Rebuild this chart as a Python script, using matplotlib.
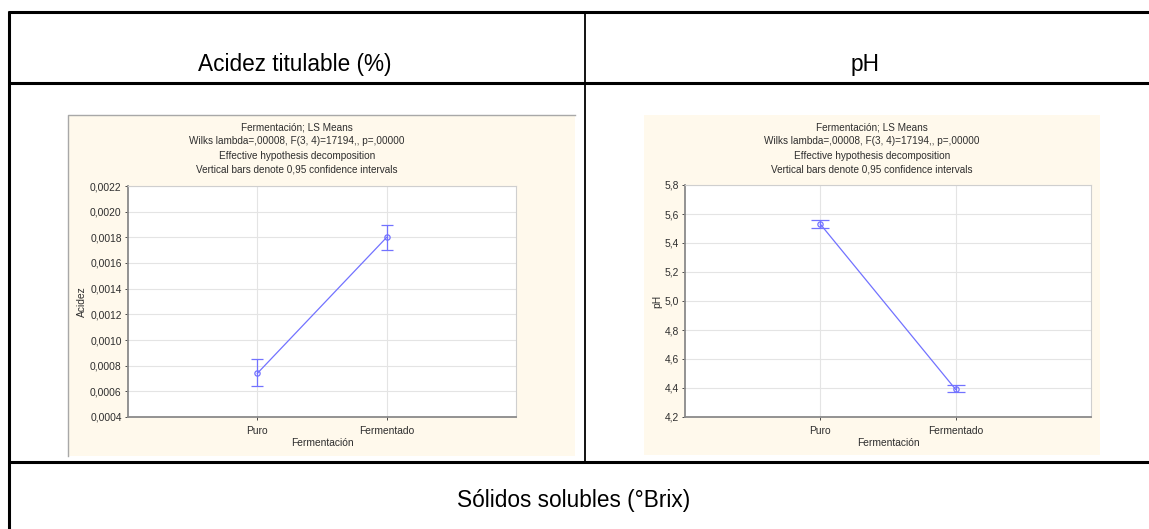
import matplotlib
matplotlib.use("Agg")
import matplotlib.pyplot as plt
from matplotlib.lines import Line2D
from matplotlib.patches import Rectangle

plt.rcParams['font.family'] = ['Liberation Sans', 'DejaVu Sans']

W, H = 1149, 529
DPI = 100

# Data: least-squares means with 95% confidence limits
categories = ["Puro", "Fermentado"]
acidez_mean = [0.00074, 0.00180]
acidez_low = [0.00064, 0.00170]
acidez_high = [0.00085, 0.00190]
ph_mean = [5.53, 4.39]
ph_low = [5.50, 4.37]
ph_high = [5.56, 4.42]

acidez_ticks = [0.0004, 0.0006, 0.0008, 0.0010, 0.0012, 0.0014, 0.0016, 0.0018, 0.0020, 0.0022]
acidez_ticklabels = ["0,0004", "0,0006", "0,0008", "0,0010", "0,0012", "0,0014",
                     "0,0016", "0,0018", "0,0020", "0,0022"]
ph_ticks = [4.2, 4.4, 4.6, 4.8, 5.0, 5.2, 5.4, 5.6, 5.8]
ph_ticklabels = ["4,2", "4,4", "4,6", "4,8", "5,0", "5,2", "5,4", "5,6", "5,8"]

header_left = "Acidez titulable (%)"
header_right = "pH"
footer_title = "Sólidos solubles (°Brix)"
chart_title = ["Fermentación; LS Means",
               "Wilks lambda=,00008, F(3, 4)=17194,, p=,00000",
               "Effective hypothesis decomposition",
               "Vertical bars denote 0,95 confidence intervals"]
xlabel = "Fermentación"

fig = plt.figure(figsize=(W / DPI, H / DPI), dpi=DPI)
fig.patch.set_facecolor("white")


def fx(x):
    return x / W


def fy(y):
    return 1 - y / H


def hline(x0, x1, y, lw):
    fig.add_artist(Line2D([fx(x0), fx(x1)], [fy(y), fy(y)], color="black", lw=lw,
                          transform=fig.transFigure, solid_capstyle="butt"))


def vline(x, y0, y1, lw):
    fig.add_artist(Line2D([fx(x), fx(x)], [fy(y0), fy(y1)], color="black", lw=lw,
                          transform=fig.transFigure, solid_capstyle="butt"))


# Table frame
hline(8, W, 11.5, 2.2)
hline(8, W, 82.5, 2.2)
hline(8, W, 462, 2.2)
vline(9, 10.5, H, 2.2)
vline(585, 11, 462, 1.3)

fig.text(fx(295), fy(65), header_left, ha="center", va="center", fontsize=16.3)
fig.text(fx(865), fy(65), header_right, ha="center", va="center", fontsize=16.3)
fig.text(fx(574), fy(500), footer_title, ha="center", va="center", fontsize=16.3)

CREAM = "#FFF9EC"
BLUE = "#7272FF"
GRID = "#E4E4E4"
TXT = "#2E2E2E"


def chart(img_box, plot_box, title_cx, means, lows, highs, ticks, ticklabels, ylim,
          ylabel, ylabel_x, cap, frame):
    ix0, iy0, ix1, iy1 = img_box
    fig.add_artist(Rectangle((fx(ix0), fy(iy1)), fx(ix1 - ix0), (iy1 - iy0) / H,
                             transform=fig.transFigure, facecolor=CREAM,
                             edgecolor="none", zorder=0))
    if frame:
        fig.add_artist(Line2D([fx(ix0), fx(ix0), fx(ix1)], [fy(iy1), fy(iy0), fy(iy0)],
                              color="#A8A8A8", lw=1.0, transform=fig.transFigure))
    for i, line in enumerate(chart_title):
        fig.text(fx(title_cx), fy(127 + 14.3 * i), line, ha="center", va="center",
                 fontsize=7.2, color=TXT)

    px0, py0, px1, py1 = plot_box
    ax = fig.add_axes([fx(px0), fy(py1), (px1 - px0) / W, (py1 - py0) / H])
    ax.set_facecolor("white")
    xs = list(range(1, len(categories) + 1))
    ax.set_xlim(0, len(categories) + 1)
    ax.set_ylim(*ylim)
    ax.set_yticks(ticks)
    ax.set_yticklabels(ticklabels)
    ax.set_xticks(xs)
    ax.set_xticklabels(categories)
    ax.grid(True, color=GRID, lw=0.8)
    ax.set_axisbelow(True)
    for s in ("left", "bottom"):
        ax.spines[s].set_color("#8A8A8A")
        ax.spines[s].set_linewidth(1.3)
    for s in ("top", "right"):
        ax.spines[s].set_color("#CFCFCF")
        ax.spines[s].set_linewidth(0.8)
    ax.tick_params(axis="both", labelsize=7.4, colors=TXT, length=2.5,
                   width=0.6, pad=2)
    ax.tick_params(axis="x", pad=4)
    yerr = [[m - l for m, l in zip(means, lows)], [h - m for m, h in zip(means, highs)]]
    ax.plot(xs, means, color=BLUE, lw=0.9, zorder=3)
    ax.errorbar(xs, means, yerr=yerr, fmt="o", ms=3.8, mfc="none", mec=BLUE,
                mew=0.9, ecolor=BLUE, elinewidth=0.9, capsize=cap, capthick=0.9,
                zorder=4)
    fig.text(fx((px0 + px1) / 2), fy(443), xlabel, ha="center", va="center",
             fontsize=7.4, color=TXT)
    fig.text(fx(ylabel_x), fy((py0 + py1) / 2), ylabel, ha="center", va="center",
             rotation=90, fontsize=7.4, color=TXT)
    return ax


chart((68, 115, 575, 456), (128, 186, 516, 417), 297,
      acidez_mean, acidez_low, acidez_high, acidez_ticks, acidez_ticklabels,
      (0.0004, 0.0022), "Acidez", 82, 4.5, True)
chart((644, 115, 1100, 455), (685, 185, 1091, 417), 872,
      ph_mean, ph_low, ph_high, ph_ticks, ph_ticklabels,
      (4.2, 5.8), "pH", 657, 6.5, False)

fig.savefig("out.png", dpi=DPI, facecolor="white")
